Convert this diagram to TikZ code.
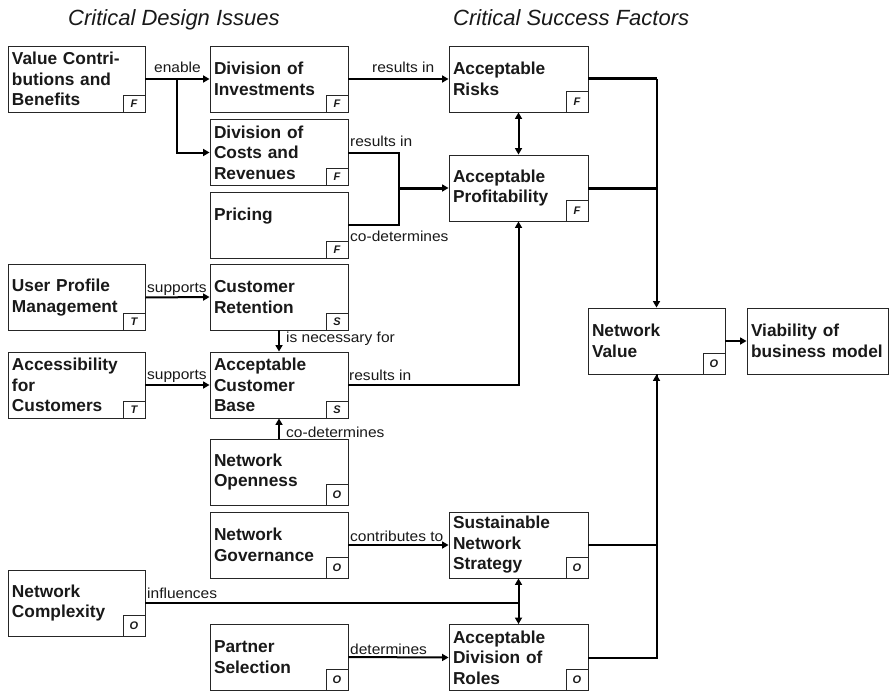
\documentclass[tikz,border=0pt]{standalone}
\usepackage{fontspec}
\setmainfont{Liberation Sans}
\newfontfamily\lblfont[FakeStretch=1.07]{Liberation Sans}
\usetikzlibrary{arrows.meta}

\tikzset{
  box/.style={draw=black!85, line width=0.9pt, rectangle, minimum height=66pt,
    inner xsep=4pt, inner ysep=0pt, align=left, text=black!90,
    font=\bfseries\fontsize{17.3}{20.5}\selectfont},
  wA/.style={text width=129pt, minimum width=137pt},
  wB/.style={text width=130pt, minimum width=138pt},
  wC/.style={text width=131pt, minimum width=139pt},
  wD/.style={text width=133pt, minimum width=141pt},
  tagsmall/.style={draw=black!85, line width=0.9pt, rectangle, inner sep=0pt,
    minimum width=22pt, minimum height=17pt, anchor=south east, text=black!90,
    font=\bfseries\itshape\fontsize{11}{13}\selectfont},
  tagbig/.style={tagsmall, minimum height=21pt},
  lbl/.style={inner sep=0pt, anchor=base west, text=black!90,
    font=\lblfont\fontsize{14.5}{17}\selectfont},
  head/.style={inner sep=0pt, anchor=base west, text=black!90,
    font=\itshape\fontsize{22}{26}\selectfont},
  conn/.style={line width=2pt, -{Triangle[length=6.5pt,width=7pt]}},
  plain/.style={line width=2pt},
  heavy/.style={line width=3pt},
  both/.style={line width=2pt, {Triangle[length=6.5pt,width=7pt]}-{Triangle[length=6.5pt,width=7pt]}}
}

\begin{document}
\begin{tikzpicture}[x=1pt,y=-1pt]
\fill[white] (0,0) rectangle (889,693);
\useasboundingbox (0,0) rectangle (889,693);

% column headings
\node[head] (hdesign) at (68,26) {Critical Design Issues};
\node[head] (hsuccess) at (453,26) {Critical Success Factors};

% left column
\node[box,wA] (vc) at (76.5,79) {Value Contri-\\butions and\\Benefits};
\node[tagsmall] (vct) at (vc.south east) {F};
\node[box,wA] (up) at (76.5,297.5) {User Profile\\Management};
\node[tagsmall] (upt) at (up.south east) {T};
\node[box,wA] (ac) at (76.5,385) {Accessibility\\for\\Customers};
\node[tagsmall] (act) at (ac.south east) {T};
\node[box,wA] (nc) at (76.5,603) {Network\\Complexity};
\node[tagbig] (nct) at (nc.south east) {O};

% design issues
\node[box,wB] (di) at (279,79) {Division of\\Investments};
\node[tagsmall] (dit) at (di.south east) {F};
\node[box,wB] (dc) at (279,152.5) {Division of\\Costs and\\Revenues};
\node[tagsmall] (dct) at (dc.south east) {F};
\node[box,wB] (pr) at (279,225) {Pricing\\\phantom{Revenues}};
\node[tagsmall] (prt) at (pr.south east) {F};
\node[box,wB] (cr) at (279,297) {Customer\\Retention};
\node[tagsmall] (crt) at (cr.south east) {S};
\node[box,wB] (cb) at (279,385) {Acceptable\\Customer\\Base};
\node[tagsmall] (cbt) at (cb.south east) {S};
\node[box,wB] (no) at (279,472) {Network\\Openness};
\node[tagbig] (not) at (no.south east) {O};
\node[box,wB] (ng) at (279,545) {Network\\Governance};
\node[tagbig] (ngt) at (ng.south east) {O};
\node[box,wB] (ps) at (279,657) {Partner\\Selection};
\node[tagbig] (pst) at (ps.south east) {O};

% success factors
\node[box,wC] (ar) at (518.5,79) {Acceptable\\Risks};
\node[tagbig] (art) at (ar.south east) {F};
\node[box,wC] (ap) at (518.5,188) {Acceptable\\Profitability};
\node[tagbig] (apt) at (ap.south east) {F};
\node[box,wC] (sn) at (518.5,545) {Sustainable\\Network\\Strategy};
\node[tagbig] (snt) at (sn.south east) {O};
\node[box,wC] (ad) at (518.5,657.5) {Acceptable\\Division of\\Roles};
\node[tagbig] (adt) at (ad.south east) {O};

% outcome
\node[box,wA] (nv) at (656.5,341) {Network\\Value};
\node[tagbig] (nvt) at (nv.south east) {O};
\node[box,wD] (vb) at (817.5,341) {Viability of\\business model};

% junction points
\coordinate (en) at (177,79);
\coordinate (jcp) at (399,188);
\coordinate (jnc) at (518.5,603);

% connectors
\draw[conn] (vc.east) -- (di.west);
\draw[conn] (en) |- (dc.west);
\draw[conn, line width=2.3pt] (di.east) -- (ar.west);
\draw[plain] (dc.east) -| (jcp);
\draw[plain] (pr.east) -| (jcp);
\draw[heavy, -{Triangle[length=6.5pt,width=7pt]}] (jcp) -- (ap.west);
\draw[both] (ar.south) -- (ap.north);
\draw[heavy] (ar.east) -- (ar.east -| nv.north);
\draw[heavy] (ap.east) -- (ap.east -| nv.north);
\draw[conn] (ar.east -| nv.north) -- (nv.north);
\draw[conn] (nv.east) -- (vb.west);
\draw[plain] (ad.east) -| (nv.south);
\draw[conn] (sn.east) -| (nv.south);
\draw[conn] (cb.east) -| (ap.south);
\draw[conn] (up.east) -- (cr.west);
\draw[conn] (ac.east) -- (cb.west);
\draw[conn] (cr.south) -- (cb.north);
\draw[conn] (no.north) -- (cb.south);
\draw[conn] (ng.east) -- (sn.west);
\draw[plain] (nc.east) -- (jnc);
\draw[both] (sn.south) -- (ad.north);
\draw[conn] (ps.east) -- (ad.west);

% connector labels
\node[lbl] (lenable) at (154,73) {enable};
\node[lbl] (lres1) at (372,73) {results in};
\node[lbl] (lres2) at (350,146) {results in};
\node[lbl] (lcod1) at (350,241) {co-determines};
\node[lbl] (lsup1) at (147,292) {supports};
\node[lbl] (lsup2) at (147,379) {supports};
\node[lbl] (lnec) at (286,342) {is necessary for};
\node[lbl] (lres3) at (349,380) {results in};
\node[lbl] (lcod2) at (286,437) {co-determines};
\node[lbl] (lcontr) at (350,541) {contributes to};
\node[lbl] (linfl) at (147,598) {influences};
\node[lbl] (ldet) at (350,654) {determines};
\end{tikzpicture}
\end{document}
